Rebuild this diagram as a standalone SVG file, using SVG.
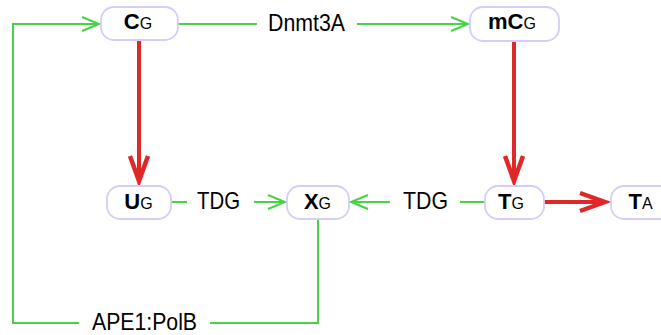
<svg xmlns="http://www.w3.org/2000/svg" width="661" height="335" viewBox="0 0 661 335">
<style>
.node rect{fill:#fff;stroke:#d6ccf6;stroke-width:1.8}
.nt{font-family:"Liberation Sans",Arial,sans-serif;fill:#000;text-anchor:middle}
.b{font-weight:bold;font-size:22px}
.s{font-size:16px}
.lbl{font-family:"Liberation Sans",Arial,sans-serif;font-size:24px;fill:#000}
.g{fill:none;stroke:#48d248;stroke-width:2}
.r{fill:none;stroke:#e02828;stroke-width:4}
</style>
<defs>
<marker id="ag" markerUnits="userSpaceOnUse" orient="auto" refX="0" refY="0" markerWidth="30" markerHeight="30" overflow="visible">
<path d="M-17,-7 L0,0 L-17,7" fill="none" stroke="#48d248" stroke-width="2"/>
</marker>
<marker id="ar" markerUnits="userSpaceOnUse" orient="auto" refX="0" refY="0" markerWidth="40" markerHeight="40" overflow="visible">
<path d="M-25,-9 L0,0 L-25,9" fill="none" stroke="#e02828" stroke-width="4.5"/>
</marker>
</defs>
<g id="connectors">
<path class="g" d="M178,24 H257"/>
<path class="g" d="M357,24 H468" marker-end="url(#ag)"/>
<path class="g" d="M318,219 V323 H210"/>
<path class="g" d="M79,323 H13 V24 H99" marker-end="url(#ag)"/>
<path class="g" d="M171,202 H187"/>
<path class="g" d="M254,202 H285" marker-end="url(#ag)"/>
<path class="g" d="M485,202 H460"/>
<path class="g" d="M390,202 H351" marker-end="url(#ag)"/>
<path class="r" d="M139,40 V181" marker-end="url(#ar)"/>
<path class="r" d="M514,41 V181" marker-end="url(#ar)"/>
<path class="r" d="M544,202 H605" marker-end="url(#ar)"/>
<text class="lbl" x="268" y="31" textLength="77" lengthAdjust="spacingAndGlyphs">Dnmt3A</text>
<text class="lbl" x="197" y="209" textLength="43" lengthAdjust="spacingAndGlyphs">TDG</text>
<text class="lbl" x="403" y="209" textLength="45" lengthAdjust="spacingAndGlyphs">TDG</text>
<text class="lbl" x="92" y="330" textLength="105" lengthAdjust="spacingAndGlyphs">APE1:PolB</text>
</g>
<g id="CG" class="node"><rect x="101" y="7" width="77" height="33" rx="13"/><text class="nt" x="138" y="28.5"><tspan class="b">C</tspan><tspan class="s">G</tspan></text></g>
<g id="mCG" class="node"><rect x="470" y="7" width="89" height="34" rx="13"/><text class="nt" x="512" y="28.5"><tspan class="b">mC</tspan><tspan class="s">G</tspan></text></g>
<g id="UG" class="node"><rect x="107" y="186" width="64" height="33" rx="13"/><text class="nt" x="138.5" y="208.5"><tspan class="b">U</tspan><tspan class="s">G</tspan></text></g>
<g id="XG" class="node"><rect x="287" y="186" width="62" height="33" rx="13"/><text class="nt" x="317.5" y="208.5"><tspan class="b">X</tspan><tspan class="s">G</tspan></text></g>
<g id="TG" class="node"><rect x="485" y="186" width="59" height="33" rx="13"/><text class="nt" x="511" y="208.5"><tspan class="b">T</tspan><tspan class="s">G</tspan></text></g>
<g id="TA" class="node"><rect x="611" y="186" width="64" height="33" rx="13"/><text class="nt" x="640.5" y="208.5"><tspan class="b">T</tspan><tspan class="s">A</tspan></text></g>
</svg>
